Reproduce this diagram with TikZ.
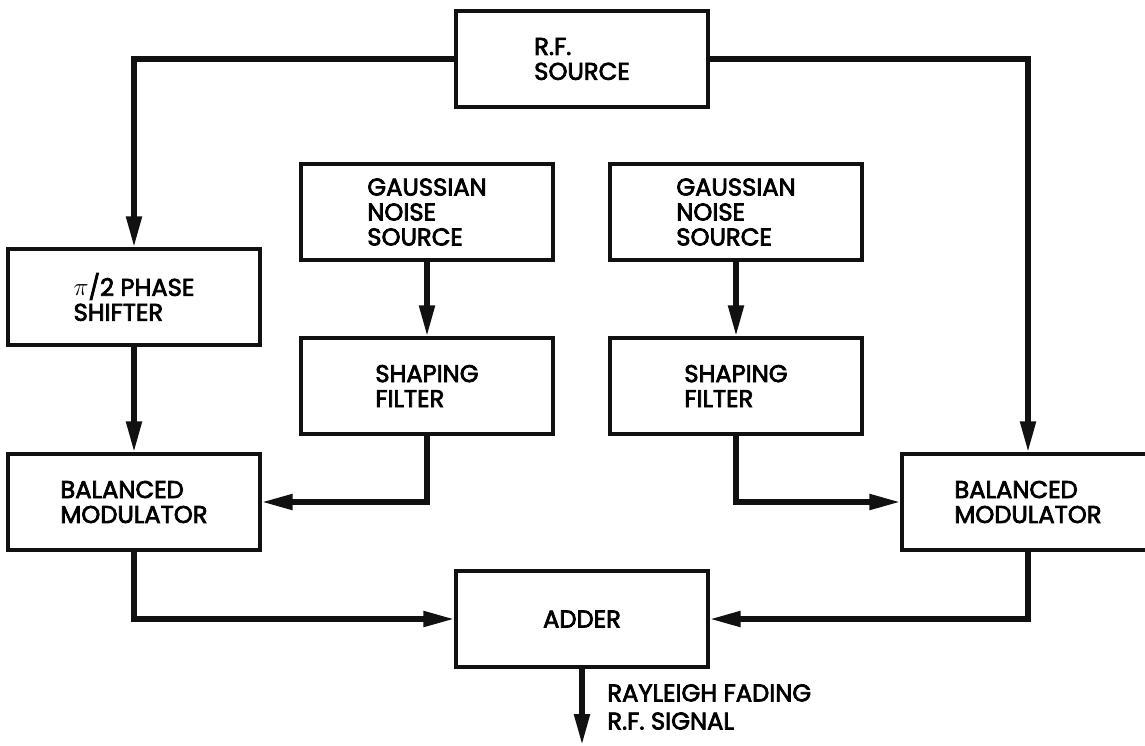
\documentclass[tikz,border=0pt]{standalone}
\usepackage{fontspec}
\usepackage{xcolor}
\usetikzlibrary{arrows.meta}
\newfontfamily\blockfont{Poppins}[FakeBold=3]
\definecolor{inkblack}{HTML}{111111}

\tikzset{
  block/.style={
    draw=inkblack,
    line width=2pt,
    minimum width=5.04cm,
    minimum height=1.92cm,
    align=left,
    inner sep=0pt,
    font=\blockfont\fontsize{13.8}{14.2}\selectfont
  },
  signal/.style={
    draw=inkblack,
    line width=3pt,
    -{Triangle[length=0.62cm,width=0.3cm]}
  }
}

\begin{document}
\begin{tikzpicture}[x=0.02cm,y=-0.02cm]
  \useasboundingbox (0,0) rectangle (1145,745);

  \node[block] (rf) at (582,59) {R.F.\\SOURCE};
  \node[block] (shift) at (134,297) {$\pi$/2 PHASE\\SHIFTER};
  \node[block] (gaussL) at (427,212) {GAUSSIAN\\NOISE\\SOURCE};
  \node[block] (gaussR) at (736,212) {GAUSSIAN\\NOISE\\SOURCE};
  \node[block] (shapeL) at (427,386) {SHAPING\\FILTER};
  \node[block] (shapeR) at (736,386) {SHAPING\\FILTER};
  \node[block] (modL) at (134,502) {BALANCED\\MODULATOR};
  \node[block] (modR) at (1028,502) {BALANCED\\MODULATOR};
  \node[block] (adder) at (582,619) {ADDER};
  \coordinate (out) at (582,745);

  % carrier to both modulators
  \draw[signal] (rf.west) -| (shift.north);
  \draw[signal] (rf.east) -| (modR.north);
  \draw[signal] (shift) -- (modL);

  % noise branches
  \draw[signal] (gaussL) -- (shapeL);
  \draw[signal] (gaussR) -- (shapeR);
  \draw[signal] (shapeL.south) |- (modL.east);
  \draw[signal] (shapeR.south) |- (modR.west);

  % sum
  \draw[signal] (modL.south) |- (adder.west);
  \draw[signal] (modR.south) |- (adder.east);
  \draw[signal] (adder) -- (out);
  \node[anchor=west, align=left, inner sep=0pt,
    font=\blockfont\fontsize{13.8}{16}\selectfont] (fading) at (607,707)
    {RAYLEIGH FADING\\R.F. SIGNAL};
\end{tikzpicture}
\end{document}
